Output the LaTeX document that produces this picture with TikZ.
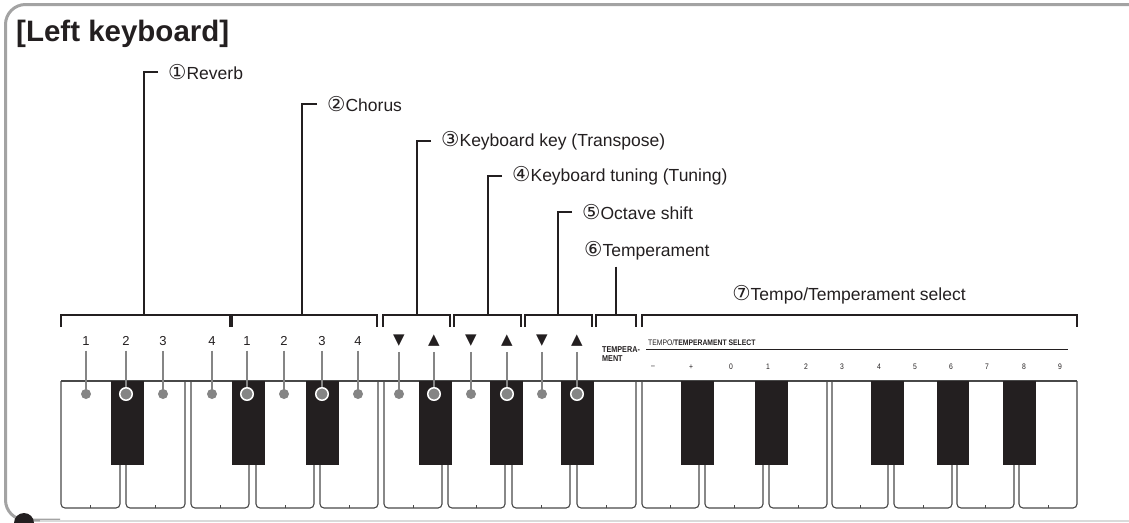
\documentclass[tikz,border=0pt]{standalone}
\usepackage{fontspec}
\setmainfont{Liberation Sans}
\newfontfamily\symfont{DejaVu Sans}
\newcommand\cnum[1]{{\symfont\fontsize{20.5}{20}\selectfont #1}}
\definecolor{inkblack}{HTML}{231F20}
\definecolor{framegray}{HTML}{A3A3A3}
\definecolor{pingray}{HTML}{858585}
\definecolor{keyline}{HTML}{484848}
\tikzset{
  lbl/.style={anchor=west, inner sep=0pt, text=inkblack, font=\fontsize{17.5}{20}\selectfont},
  leader/.style={draw=inkblack, line width=1.1pt},
  bracket/.style={draw=inkblack, line width=1.3pt},
  keynum/.style={inner sep=0pt, text=inkblack, font=\fontsize{13}{15}\selectfont},
  arrowkey/.style={inner sep=0pt, text=inkblack, font=\symfont\fontsize{15}{16}\selectfont},
  pin/.style={draw=pingray, line width=2.6pt},
  wdot/.style={circle, fill=pingray, minimum size=10pt, inner sep=0pt},
  bdot/.style={circle, fill=pingray, draw=white, line width=1.5pt, minimum size=12.5pt, inner sep=0pt},
  panel/.style={inner sep=0pt, text=inkblack, xscale=0.85, font=\fontsize{8}{9}\selectfont},
}

\begin{document}
\begin{tikzpicture}[x=1pt, y=-1pt]
  \useasboundingbox (0,0) rectangle (1129,522);
  \clip (0,0) rectangle (1129,522);
  % frame
  \draw[framegray, line width=3pt, rounded corners=20pt] (1150,4.5) -- (5.5,4.5) -- (5.5,520) -- (60,520);
  \draw[framegray!40, line width=1.5pt] (40,521) -- (1129,521);
  \fill[inkblack] (24,523) circle (10pt);
  \node[anchor=west, inner sep=0pt, text=inkblack, font=\bfseries\fontsize{29.5}{32}\selectfont] (title) at (16,34) {[Left keyboard]};

  % callouts
  \node[lbl] (reverb) at (168,72) {\cnum{①}Reverb};
  \node[lbl] (chorus) at (327,104) {\cnum{②}Chorus};
  \node[lbl] (transp) at (441,141) {\cnum{③}Keyboard key (Transpose)};
  \node[lbl] (tuning) at (512,176) {\cnum{④}Keyboard tuning (Tuning)};
  \node[lbl] (octave) at (582,212) {\cnum{⑤}Octave shift};
  \node[lbl] (temper) at (584,251) {\cnum{⑥}Temperament};
  \node[lbl, anchor=center] (temposel) at (849,295) {\cnum{⑦}Tempo/Temperament select};
  \coordinate (b1) at (144,315);
  \coordinate (b2) at (302,315);
  \coordinate (b3) at (417,315);
  \coordinate (b4) at (488,315);
  \coordinate (b5) at (558,315);
  \coordinate (b6) at (616,315);
  \draw[leader] ([xshift=-10pt]reverb.west) -| (b1);
  \draw[leader] ([xshift=-10pt]chorus.west) -| (b2);
  \draw[leader] ([xshift=-10pt]transp.west) -| (b3);
  \draw[leader] ([xshift=-10pt]tuning.west) -| (b4);
  \draw[leader] ([xshift=-10pt]octave.west) -| (b5);
  \draw[leader] ([yshift=-6pt]temper.south -| b6) -- (b6);
  % brackets
  \foreach \l/\r in {61/230, 232/377, 383/450, 454/521, 525/592, 596/636, 642/1077}
    \draw[bracket] (\l,327) -- (\l,315) -- (\r,315) -- (\r,327);

  % white keys
  \foreach \l/\r in {61/120, 126/185, 191/249, 256/314, 320/378, 384/442, 448/505, 512/570,
                     577/636, 642/699, 705/763, 769/827, 832/888, 894/952, 957/1014, 1019/1077} {
    \draw[keyline, line width=1.1pt, rounded corners=4pt] (\l,381) -- (\l,508) -- (\r,508) -- (\r,381);
    \draw[keyline, line width=0.8pt] ({(\l+\r)/2},508) -- ++(0,-3);
  }
  \draw[keyline, line width=1.1pt] (61,381) -- (1077,381);
  % black keys
  \foreach \l/\r in {111/144, 232/265, 306/339, 419/452, 490/523, 561/594,
                     681/714, 755/788, 871/904, 937/969, 1003/1036}
    \fill[inkblack] (\l,381) rectangle (\r,465);

  % key assignments
  \foreach \x/\t [count=\i] in {86/1, 126/2, 163/3, 212/4, 247/1, 284/2, 322/3, 358/4} {
    \node[keynum] (num\i) at (\x,341) {\t};
    \coordinate (pt\i) at (\x,394);
    \draw[pin] ([yshift=-5pt]num\i.south) -- (pt\i);
  }
  \foreach \x/\t [count=\i from 9] in {399/▼, 434/▲, 471/▼, 507/▲, 542/▼, 577/▲} {
    \node[arrowkey] (num\i) at (\x,341) {\t};
    \coordinate (pt\i) at (\x,394);
    \draw[pin] ([yshift=-5pt]num\i.south) -- (pt\i);
  }
  \foreach \i in {1,3,4,6,8,9,11,13} \node[wdot] at (pt\i) {};
  \foreach \i in {2,5,7,10,12,14} \node[bdot] at (pt\i) {};

  % panel print
  \node[panel, anchor=west, align=left, font=\bfseries\fontsize{8.5}{8.5}\selectfont] (tempkey) at (602,354) {TEMPERA-\\MENT};
  \node[panel, anchor=west] (selhead) at (648,343) {TEMPO/\textbf{TEMPERAMENT SELECT}};
  \draw[inkblack, line width=0.8pt] (646,349) -- (1068,349);
  \foreach \x/\t [count=\i] in {653/–, 691/+, 731/0, 768/1, 806/2, 842/3, 879/4, 915/5, 951/6, 987/7, 1024/8, 1060/9}
    \node[panel] (sel\i) at (\x,367) {\t};
\end{tikzpicture}
\end{document}
